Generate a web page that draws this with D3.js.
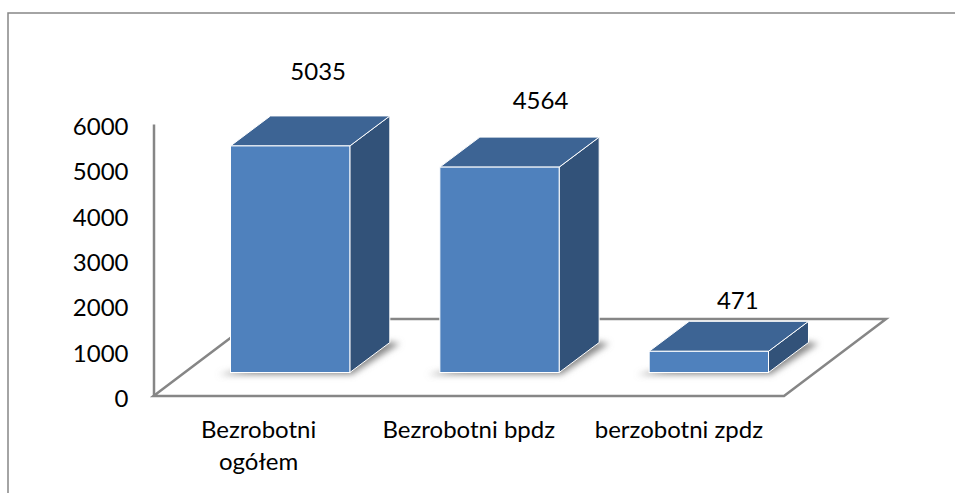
<!DOCTYPE html>
<html>
<head>
<meta charset="utf-8">
<script src="https://cdn.jsdelivr.net/npm/d3@7"></script>
<style>
  html, body { margin: 0; padding: 0; background: #fff; }
  svg { display: block; }
  text { font-family: Lato, "Open Sans", sans-serif; fill: #000; }
</style>
</head>
<body>
<script>
var categories = ["Bezrobotni ogółem", "Bezrobotni bpdz", "berzobotni zpdz"];
var categoryLines = [["Bezrobotni", "ogółem"], ["Bezrobotni bpdz"], ["berzobotni zpdz"]];
var values = [5035, 4564, 471];
var yTicks = [0, 1000, 2000, 3000, 4000, 5000, 6000];

var width = 955, height = 493, fontSize = 24;
var axisColor = "#868686";
var frontColor = "#4f81bd", topColor = "#3d6494", sideColor = "#325279";

// floor corners and box depth, in pixels
var floorLeft = 153.5, floorRight = 784, floorBottom = 396, floorDx = 102, floorDy = -77;
var barDx = 40, barDy = -30, barBase = 372.5;
// data labels were hand placed in the original, offset from the bar's centre / top
var labelOffsets = [[28, -66], [41, -58], [29, -42]];

var svg = d3.select("body").append("svg")
    .attr("width", width)
    .attr("height", height);

var defs = svg.append("defs");
defs.append("filter").attr("id", "soft")
    .attr("x", "-20%").attr("y", "-100%").attr("width", "140%").attr("height", "300%")
    .append("feGaussianBlur").attr("stdDeviation", 3);

// outer frame, only top and left show
svg.append("path")
    .attr("d", d3.line()([[8, height], [8, 13], [width, 13]]))
    .attr("fill", "none")
    .attr("stroke", axisColor)
    .attr("stroke-width", 1.5);

var yAxisScale = d3.scaleLinear().domain([0, 6000]).range([floorBottom, 124]);
var barScale = d3.scaleLinear().domain([0, 6000]).range([barBase, barBase - 270]);
var xScale = d3.scaleBand().domain(categories).range([185.5, 813.5]).paddingInner(0.43).paddingOuter(0.215);
var labelScale = d3.scaleBand().domain(categories).range([floorLeft, floorRight]);

// floor outline
svg.append("path")
    .attr("d", d3.line()([
        [floorLeft, floorBottom],
        [floorRight, floorBottom],
        [floorRight + floorDx, floorBottom + floorDy],
        [floorLeft + floorDx, floorBottom + floorDy]
    ]) + "Z")
    .attr("fill", "none")
    .attr("stroke", axisColor)
    .attr("stroke-width", 2.5);

var yAxis = d3.axisLeft(yAxisScale)
    .tickValues(yTicks)
    .tickSize(0)
    .tickPadding(25)
    .tickFormat(d3.format("d"));

var yG = svg.append("g")
    .attr("transform", "translate(" + floorLeft + ",0)")
    .call(yAxis);
yG.select(".domain").attr("stroke", axisColor).attr("stroke-width", 2.5);
yG.selectAll("text")
    .attr("font-size", fontSize)
    .attr("fill", "#000")
    .style("font-family", "Lato")
    .attr("dy", "0.44em");

var bars = svg.selectAll(".bar")
    .data(values)
    .enter().append("g")
    .attr("class", "bar");

function pts(arr) { return arr.map(function (p) { return p.join(","); }).join(" "); }
function x0(d, i) { return xScale(categories[i]); }
function x1(d, i) { return x0(d, i) + xScale.bandwidth(); }

// soft shadow on the floor
bars.append("polygon")
    .attr("points", function (d, i) {
        return pts([
            [x0(d, i) - 12, barBase + 2],
            [x1(d, i) + 2, barBase + 2],
            [x1(d, i) + barDx + 10, barBase + barDy + 1],
            [x1(d, i) + barDx - 4, barBase + barDy - 1]
        ]);
    })
    .attr("fill", "#8a8a8a")
    .attr("filter", "url(#soft)");

bars.append("polygon")
    .attr("points", function (d, i) {
        var t = barScale(d);
        return pts([[x1(d, i), t], [x1(d, i) + barDx, t + barDy], [x1(d, i) + barDx, barBase + barDy], [x1(d, i), barBase]]);
    })
    .attr("fill", sideColor).attr("stroke", "#fff").attr("stroke-width", 1);

bars.append("polygon")
    .attr("points", function (d, i) {
        var t = barScale(d);
        return pts([[x0(d, i), t], [x0(d, i) + barDx, t + barDy], [x1(d, i) + barDx, t + barDy], [x1(d, i), t]]);
    })
    .attr("fill", topColor).attr("stroke", "#fff").attr("stroke-width", 1);

bars.append("rect")
    .attr("x", x0)
    .attr("y", function (d) { return barScale(d); })
    .attr("width", xScale.bandwidth())
    .attr("height", function (d) { return barBase - barScale(d); })
    .attr("fill", frontColor).attr("stroke", "#fff").attr("stroke-width", 1);

svg.selectAll(".value")
    .data(values)
    .enter().append("text")
    .attr("class", "value")
    .attr("text-anchor", "middle")
    .attr("font-size", fontSize)
    .attr("x", function (d, i) { return x0(d, i) + xScale.bandwidth() / 2 + labelOffsets[i][0]; })
    .attr("y", function (d, i) { return barScale(d) + labelOffsets[i][1]; })
    .text(function (d) { return d; });

var cat = svg.selectAll(".cat")
    .data(categories)
    .enter().append("text")
    .attr("class", "cat")
    .attr("text-anchor", "middle")
    .attr("font-size", fontSize);

cat.selectAll("tspan")
    .data(function (d, i) {
        return categoryLines[i].map(function (line) { return { cat: d, line: line }; });
    })
    .enter().append("tspan")
    .attr("x", function (d) { return labelScale(d.cat) + labelScale.bandwidth() / 2; })
    .attr("y", function (d, j) { return 438 + j * 32; })
    .text(function (d) { return d.line; });
</script>
</body>
</html>
